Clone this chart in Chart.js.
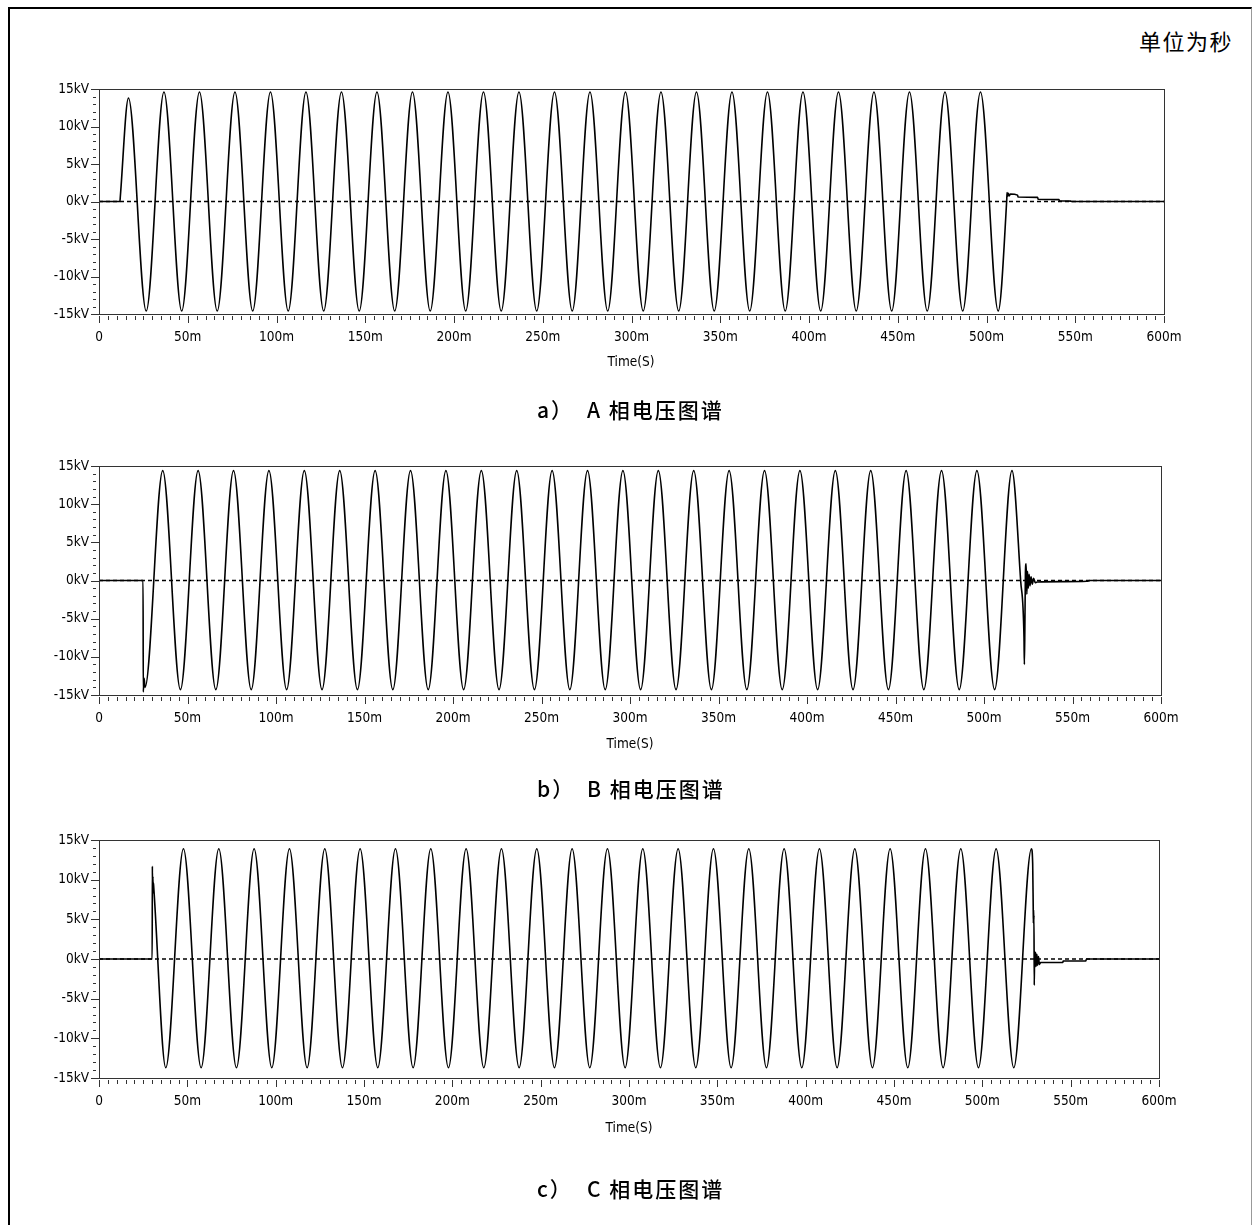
<!DOCTYPE html>
<html>
<head>
<meta charset="utf-8">
<script src="https://cdn.jsdelivr.net/npm/chart.js@4.4.1/dist/chart.umd.min.js"></script>
<style>
html, body { margin: 0; padding: 0; width: 1253px; height: 1225px; overflow: hidden; background: #fff; }
#frame { position: absolute; left: 8px; top: 7px; width: 1241px; height: 1300px; border-top: 2px solid #000; border-left: 2px solid #000; border-right: 1px solid #999; }
canvas { position: absolute; left: 0; }
.txt { position: absolute; white-space: nowrap; color: #000; line-height: 1; }
.unit { font-family: "Noto Sans CJK SC", sans-serif; font-size: 22px; letter-spacing: 1.5px; left: 1139px; top: 29px; }
.axisname { font-family: "DejaVu Sans Condensed", "DejaVu Sans", sans-serif; font-size: 13.5px; transform: translateX(-50%); }
.cap { font-family: "Noto Sans CJK SC", sans-serif; font-size: 21px; font-weight: 500; }
.cap .t { position: absolute; letter-spacing: 2px; }
</style>
</head>
<body>
<div id="frame"></div>
<div class="txt unit">单位为秒</div>

<canvas id="chartA"></canvas>
<canvas id="chartB"></canvas>
<canvas id="chartC"></canvas>

<div class="txt axisname" style="left:631px; top:355px;">Time(S)</div>
<div class="txt axisname" style="left:630px; top:737px;">Time(S)</div>
<div class="txt axisname" style="left:629px; top:1121px;">Time(S)</div>

<div class="txt cap" style="left:537px; top:399px;"><span class="t" style="left:0">a）</span><span class="t" style="left:50px">A 相电压图谱</span></div>
<div class="txt cap" style="left:537px; top:778px;"><span class="t" style="left:0">b）</span><span class="t" style="left:50px">B 相电压图谱</span></div>
<div class="txt cap" style="left:537px; top:1178px;"><span class="t" style="left:0">c）</span><span class="t" style="left:50px">C 相电压图谱</span></div>

<script>
// tick labels (time in ms, voltage in kV)
var xTicks = [0, 50, 100, 150, 200, 250, 300, 350, 400, 450, 500, 550, 600];
var yTicks = [-15, -10, -5, 0, 5, 10, 15];

// A phase: key points (peaks, switching steps, tail)
var phaseATime = [
    0, 11.8, 12.0,
    16.6, 26.6, 36.6, 46.6, 56.6, 66.6, 76.6, 86.6, 96.6, 106.6,
    116.6, 126.6, 136.6, 146.6, 156.6, 166.6, 176.6, 186.6, 196.6, 206.6,
    216.6, 226.6, 236.6, 246.6, 256.6, 266.6, 276.6, 286.6, 296.6, 306.6,
    316.6, 326.6, 336.6, 346.6, 356.6, 366.6, 376.6, 386.6, 396.6, 406.6,
    416.6, 426.6, 436.6, 446.6, 456.6, 466.6, 476.6, 486.6, 496.6, 506.6,
    511.4, 511.6, 511.9, 512.3, 512.8, 513.5, 517.5, 517.8, 528.8, 529.1, 540.8, 541.1, 547.6, 548.0, 600
];
var phaseAVolt = [
    0, 0, 0.6,
    13.8, -14.6, 14.6, -14.6, 14.6, -14.6, 14.6, -14.6, 14.6, -14.6,
    14.6, -14.6, 14.6, -14.6, 14.6, -14.6, 14.6, -14.6, 14.6, -14.6,
    14.6, -14.6, 14.6, -14.6, 14.6, -14.6, 14.6, -14.6, 14.6, -14.6,
    14.6, -14.6, 14.6, -14.6, 14.6, -14.6, 14.6, -14.6, 14.6, -14.6,
    14.6, -14.6, 14.6, -14.6, 14.6, -14.6, 14.6, -14.6, 14.6, -14.6,
    0.2, 1.2, 0.7, 1.1, 0.75, 1.0, 0.85, 0.6, 0.55, 0.3, 0.25, 0.1, 0.05, 0, 0
];

// B phase
var phaseBTime = [
    0, 24.9, 25.0, 25.5, 26.0,
    36, 46, 56, 66, 76, 86, 96, 106, 116, 126,
    136, 146, 156, 166, 176, 186, 196, 206, 216, 226,
    236, 246, 256, 266, 276, 286, 296, 306, 316, 326,
    336, 346, 356, 366, 376, 386, 396, 406, 416, 426,
    436, 446, 456, 466, 476, 486, 496, 506, 515.8,
    520.7, 522.6, 522.8, 523.1, 523.4, 523.8, 524.2, 524.6, 525.0, 525.5, 526.0,
    526.6, 527.3, 528.0, 529.0, 530, 545, 558, 560, 600
];
var phaseBVolt = [
    0, 0, -14.6, -12.8, -14.0,
    14.4, -14.3, 14.4, -14.3, 14.4, -14.3, 14.4, -14.3, 14.4, -14.3,
    14.4, -14.3, 14.4, -14.3, 14.4, -14.3, 14.4, -14.3, 14.4, -14.3,
    14.4, -14.3, 14.4, -14.3, 14.4, -14.3, 14.4, -14.3, 14.4, -14.3,
    14.4, -14.3, 14.4, -14.3, 14.4, -14.3, 14.4, -14.3, 14.4, -14.3,
    14.4, -14.3, 14.4, -14.3, 14.4, -14.3, 14.4, -14.3, 14.4,
    0, -7.5, -11.0, -6.0, 1.0, 2.2, -1.8, 1.2, -1.0, 0.8, -0.7,
    0.5, -0.5, 0.3, -0.3, -0.2, -0.15, -0.1, 0, 0
];

// C phase
var phaseCTime = [
    0, 30.1, 30.2, 30.35, 30.5, 30.65, 30.8, 31.0,
    37.8, 47.8, 57.8, 67.8, 77.8, 87.8, 97.8, 107.8, 117.8, 127.8,
    137.8, 147.8, 157.8, 167.8, 177.8, 187.8, 197.8, 207.8, 217.8, 227.8,
    237.8, 247.8, 257.8, 267.8, 277.8, 287.8, 297.8, 307.8, 317.8, 327.8,
    337.8, 347.8, 357.8, 367.8, 377.8, 387.8, 397.8, 407.8, 417.8, 427.8,
    437.8, 447.8, 457.8, 467.8, 477.8, 487.8, 497.8, 507.8, 517.8, 527.8,
    528.5, 528.8, 528.9, 529.0, 529.1, 529.2, 529.4, 529.6, 529.9, 530.2,
    530.5, 530.9, 531.3, 531.8, 532.3, 533.0, 545.5, 545.8, 558.5, 559.0, 600
];
var phaseCVolt = [
    0, 0, 11.7, 8.2, 10.4, 8.5, 9.6, 9.0,
    -13.7, 13.9, -13.7, 13.9, -13.7, 13.9, -13.7, 13.9, -13.7, 13.9,
    -13.7, 13.9, -13.7, 13.9, -13.7, 13.9, -13.7, 13.9, -13.7, 13.9,
    -13.7, 13.9, -13.7, 13.9, -13.7, 13.9, -13.7, 13.9, -13.7, 13.9,
    -13.7, 13.9, -13.7, 13.9, -13.7, 13.9, -13.7, 13.9, -13.7, 13.9,
    -13.7, 13.9, -13.7, 13.9, -13.7, 13.9, -13.7, 13.9, -13.7, 13.9,
    12.0, 6.6, 4.5, 6.2, 4.8, 5.5, -3.3, 1.0, -1.0, 0.8,
    -0.9, 0.6, -0.8, 0.3, -0.7, -0.45, -0.45, -0.25, -0.25, 0, 0
];

var zeroLine = [0, 600];

var tickFont = { family: "'DejaVu Sans Condensed', 'DejaVu Sans', sans-serif", size: 13.5 };

// frame around the plot + major/minor tick marks, placed through the scales
var frameTicks = {
    id: 'frameTicks',
    afterDraw: function(chart) {
        var ctx = chart.ctx;
        var a = chart.chartArea;
        var xs = chart.scales.x;
        var ys = chart.scales.y;
        ctx.save();
        ctx.strokeStyle = '#333';
        ctx.lineWidth = 1;
        ctx.strokeRect(Math.round(a.left) + 0.5, Math.round(a.top) + 0.5,
            Math.round(a.right - a.left), Math.round(a.bottom - a.top));
        ctx.beginPath();
        var v, p, major;
        for (v = -15; v <= 15; v += 1) {
            p = Math.round(ys.getPixelForValue(v)) + 0.5;
            major = yTicks.indexOf(v) >= 0;
            ctx.moveTo(a.left - (major ? 8 : 6), p);
            ctx.lineTo(a.left - (major ? 0 : 3), p);
        }
        for (v = 0; v <= 600; v += 5) {
            p = Math.round(xs.getPixelForValue(v)) + 0.5;
            major = xTicks.indexOf(v) >= 0;
            ctx.moveTo(p, a.bottom + 2);
            ctx.lineTo(p, a.bottom + (major ? 9 : 6));
        }
        ctx.stroke();
        ctx.restore();
    }
};

function buildPanel(id, plotTop, plotBottom, plotRight, times, volts) {
    var canvas = document.getElementById(id);
    var padTop = 30, axisH = 40, padBottom = 10;
    canvas.width = 1253;
    canvas.height = plotBottom - plotTop + padTop + axisH + padBottom;
    canvas.style.top = (plotTop - padTop) + 'px';

    var trace = times.map(function(t, i) { return { x: t, y: volts[i] }; });
    var zero = zeroLine.map(function(t) { return { x: t, y: 0 }; });

    return new Chart(canvas, {
        type: 'line',
        data: {
            datasets: [{
                data: trace,
                borderColor: '#000',
                borderWidth: 1.6,
                pointRadius: 0,
                cubicInterpolationMode: 'monotone',
                order: 0
            }, {
                data: zero,
                borderColor: '#000',
                borderWidth: 1.4,
                borderDash: [4, 3],
                pointRadius: 0,
                order: 1
            }]
        },
        options: {
            responsive: false,
            animation: false,
            devicePixelRatio: 1,
            layout: { padding: { left: 0, top: padTop, right: 1253 - plotRight, bottom: padBottom } },
            plugins: { legend: { display: false }, tooltip: { enabled: false } },
            scales: {
                x: {
                    type: 'linear',
                    min: 0,
                    max: 600,
                    afterBuildTicks: function(s) { s.ticks = xTicks.map(function(v) { return { value: v }; }); },
                    afterFit: function(s) { s.height = axisH; },
                    grid: { display: false, drawTicks: false },
                    border: { display: false },
                    ticks: {
                        padding: 15,
                        maxRotation: 0,
                        autoSkip: false,
                        color: '#000',
                        font: tickFont,
                        callback: function(v) { return v === 0 ? '0' : v + 'm'; }
                    }
                },
                y: {
                    min: -15,
                    max: 15,
                    afterBuildTicks: function(s) { s.ticks = yTicks.map(function(v) { return { value: v }; }); },
                    afterFit: function(s) { s.width = 99; },
                    grid: { display: false, drawTicks: false },
                    border: { display: false },
                    ticks: {
                        padding: 10,
                        color: '#000',
                        font: tickFont,
                        callback: function(v) { return v + 'kV'; }
                    }
                }
            }
        },
        plugins: [frameTicks]
    });
}

buildPanel('chartA', 89, 314, 1164, phaseATime, phaseAVolt);
buildPanel('chartB', 466, 695, 1161, phaseBTime, phaseBVolt);
buildPanel('chartC', 840, 1078, 1159, phaseCTime, phaseCVolt);
</script>
</body>
</html>
